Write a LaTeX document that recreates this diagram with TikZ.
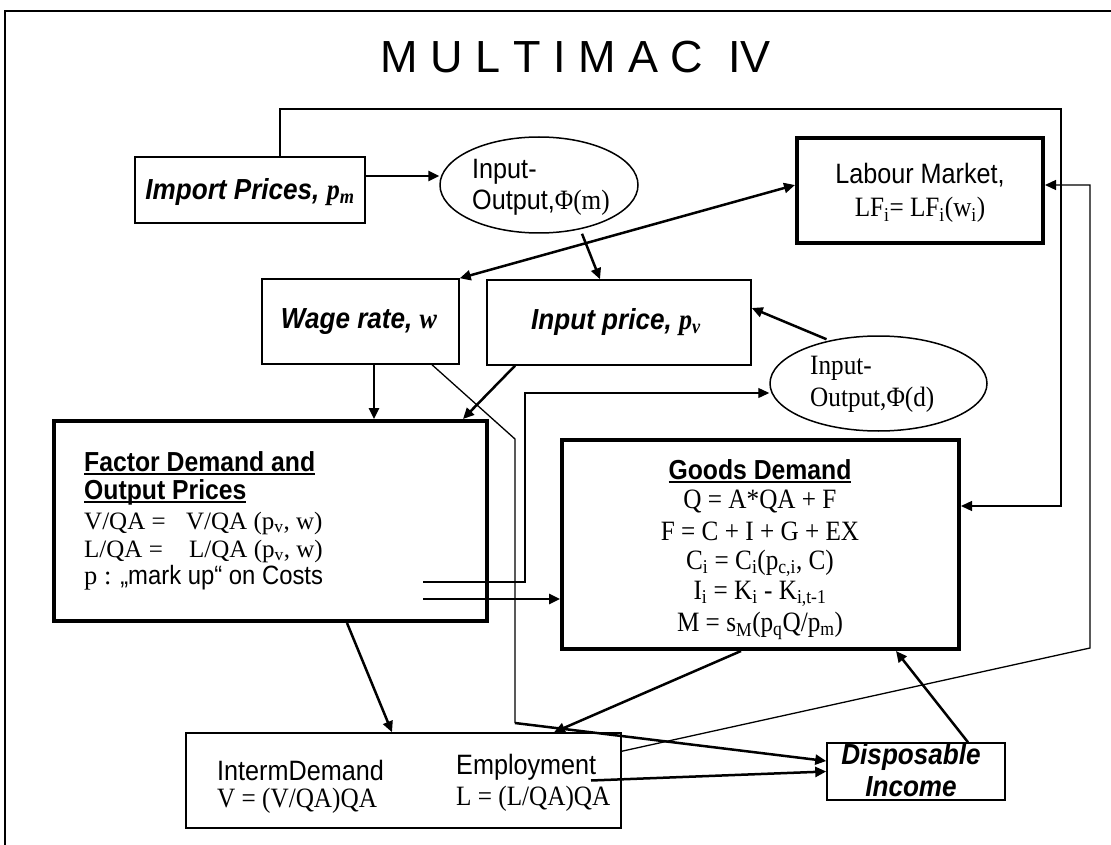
\documentclass[tikz,border=0pt]{standalone}
\usepackage{fontspec}
\setmainfont{Liberation Sans}[FakeStretch=0.9]
\newfontfamily\tnr{Liberation Serif}[FakeStretch=0.9]
\newfontfamily\tnrw{Liberation Serif}
\newfontfamily\titlefont{Liberation Sans}
\usetikzlibrary{arrows.meta,shapes.geometric}
\newcommand\ulx[1]{\setbox0\hbox{#1}\rlap{\rule[-3.5pt]{\wd0}{1.8pt}}\box0}
\begin{document}
\begin{tikzpicture}[x=1pt,y=-1pt,
  thinbox/.style={draw,line width=1.5pt,inner sep=0pt},
  thickbox/.style={draw,line width=4pt,inner sep=0pt},
  ellbox/.style={draw,ellipse,line width=1.5pt,inner sep=0pt},
  txt/.style={inner sep=0pt,font=\fontsize{28}{31}\selectfont},
  ltxt/.style={txt,anchor=west},
  stxt/.style={inner sep=0pt,font=\tnr\fontsize{28}{31}\selectfont},
  sltxt/.style={stxt,anchor=west},
  fdtxt/.style={inner sep=0pt,anchor=base west,font=\tnrw\fontsize{25}{28}\selectfont},
  bhead/.style={inner sep=0pt,font=\fontsize{27.5}{30}\selectfont\bfseries},
  bi/.style={inner sep=0pt,font=\fontsize{29}{32}\selectfont\bfseries\itshape},
  tip/.tip={Triangle[length=11pt,width=10pt]},
  arr/.style={line width=2.5pt,-tip},
  darr/.style={line width=2.5pt,tip-tip},
  tline/.style={line width=1.3pt},
  tarr/.style={line width=1.3pt,-tip},
]
\useasboundingbox (0,0) rectangle (1111,845);
% frame
\coordinate (fr1) at (5,845);
\coordinate (fr2) at (5,11);
\coordinate (fr3) at (1111,11);
\draw[line width=1.5pt] (fr1) -- (fr2) -- (fr3);
% title
\node[inner sep=0pt,font=\titlefont\fontsize{45}{50}\selectfont] (title) at (576,57) {M U L T I M A C \ IV};

% boxes
\node[thinbox,minimum width=230pt,minimum height=66pt] (imp) at (250,190) {};
\node[bi] (imp1) at (250,192) {Import Prices, {\tnr p\textsubscript{m}}};

\node[ellbox,minimum width=198pt,minimum height=96pt] (iom) at (539,185) {};
\node[ltxt] (iom1) at (472,172) {Input-};
\node[ltxt] (iom2) at (472,203) {Output,{\tnr Φ(m)}};

\node[thickbox,minimum width=246pt,minimum height=105pt] (lab) at (920,190.5) {};
\node[txt] (lab1) at (920,175) {Labour Market,};
\node[stxt] (lab2) at (920,210) {LF\textsubscript{i}= LF\textsubscript{i}(w\textsubscript{i})};

\node[thinbox,minimum width=197pt,minimum height=85pt] (wage) at (360.5,321.5) {};
\node[bi] (wage1) at (359,322) {Wage rate, {\tnr w}};

\node[thinbox,minimum width=264pt,minimum height=85pt] (inp) at (619,322.5) {};
\node[bi] (inp1) at (616,322) {Input price, {\tnr p\textsubscript{v}}};

\node[ellbox,minimum width=217pt,minimum height=95pt] (iod) at (878.5,383.5) {};
\node[sltxt] (iod1) at (810,368) {Input-};
\node[sltxt] (iod2) at (810,400) {Output,Φ(d)};

\node[thickbox,minimum width=433pt,minimum height=200pt] (fd) at (270.5,521) {};
\node[bhead,anchor=west] (fd1) at (84,463) {\ulx{Factor Demand and}};
\node[bhead,anchor=west] (fd2) at (84,492) {\ulx{Output Prices}};
\node[fdtxt] (fd3) at (84,529) {\makebox[102pt][l]{V/QA =}V/QA (p\textsubscript{v}, w)};
\node[fdtxt] (fd4) at (84,557) {\makebox[105pt][l]{L/QA =}L/QA (p\textsubscript{v}, w)};
\node[inner sep=0pt,anchor=base west,font=\fontsize{26.5}{29}\selectfont] (fd5) at (84,584) {{\tnrw p :} „mark up“ on Costs};

\node[thickbox,minimum width=397pt,minimum height=209pt] (gd) at (760.5,544.5) {};
\node[bhead] (gd1) at (760,471) {\ulx{Goods Demand}};
\node[stxt] (gd2) at (760,501) {Q = A*QA + F};
\node[stxt] (gd3) at (760,531) {F = C + I + G + EX};
\node[stxt] (gd4) at (760,563) {C\textsubscript{i} = C\textsubscript{i}(p\textsubscript{c,i}, C)};
\node[stxt] (gd5) at (760,594) {I\textsubscript{i} = K\textsubscript{i} - K\textsubscript{i,t-1}};
\node[stxt] (gd6) at (760,626) {M = s\textsubscript{M}(p\textsubscript{q}Q/p\textsubscript{m})};

\node[thinbox,minimum width=435pt,minimum height=95pt] (bot) at (403.5,780.5) {};
\node[ltxt] (bt1) at (217,770) {IntermDemand};
\node[sltxt] (bt2) at (217,801) {V = (V/QA)QA};
\node[ltxt] (bt3) at (456,767) {Employment};
\node[sltxt] (bt4) at (456,799) {L = (L/QA)QA};

\node[thinbox,minimum width=178pt,minimum height=57pt] (di) at (916,771.5) {};
\node[bi] (di1) at (911,757) {Disposable};
\node[bi] (di2) at (911,787) {Income};

% connectors
\coordinate (a1) at ([yshift=14pt]imp.east);
\draw[arr] (a1) -- (a1 -| iom.west);

\coordinate (b1) at ([xshift=30pt]imp.north);
\coordinate (b2) at (1061,109);
\coordinate (b3) at ([yshift=38.5pt]gd.east);
\draw[tarr] (b1) |- (b2) |- (b3);

\coordinate (c1) at ([yshift=5.5pt]lab.west);
\draw[darr] (wage.north east) -- (c1);

\draw[arr] ([xshift=43pt]iom.south) -- ([xshift=-19pt]inp.north);

\draw[arr] ([xshift=-52pt,yshift=-4pt]iod.north) -- ([yshift=14.5pt]inp.east);

\coordinate (f1) at ([xshift=13.5pt]wage.south);
\draw[arr] (f1) -- (f1 |- fd.north);

\draw[arr] ([xshift=-104pt]inp.south) -- ([xshift=-26pt]fd.north east);

\coordinate (h0) at ([xshift=71.5pt]wage.south);
\coordinate (h1) at (515,439);
\coordinate (h2) at (515,723);
\draw[tline] (h0) -- (h1) -- (h2);
\draw[arr] (h2) -- ([yshift=10.5pt]di.west);

\coordinate (i0) at ([xshift=-66pt,yshift=-61pt]fd.east);
\coordinate (i1) at (525,393);
\coordinate (i2) at ([yshift=-9.5pt]iod.west);
\draw[tarr] (i0) -| (i1) -- (i2);

\coordinate (j0) at ([xshift=-66pt,yshift=-78pt]fd.east);
\draw[arr] (j0) -- (j0 -| gd.west);

\draw[arr] ([xshift=76.5pt]fd.south) -- ([xshift=-11.5pt]bot.north);
\draw[arr] ([xshift=-19.5pt]gd.south) -- ([xshift=150.5pt]bot.north);
\draw[arr] ([xshift=52pt]di.north) -- ([xshift=135.5pt]gd.south);
\draw[arr] ([xshift=187.5pt]bot.center) -- (di.west);

\coordinate (o0) at ([yshift=-19pt]bot.north east);
\coordinate (o1) at (1090,648);
\coordinate (o2) at ([yshift=5.5pt]lab.east);
\draw[tarr] (o0) -- (o1) |- (o2);
\end{tikzpicture}
\end{document}
